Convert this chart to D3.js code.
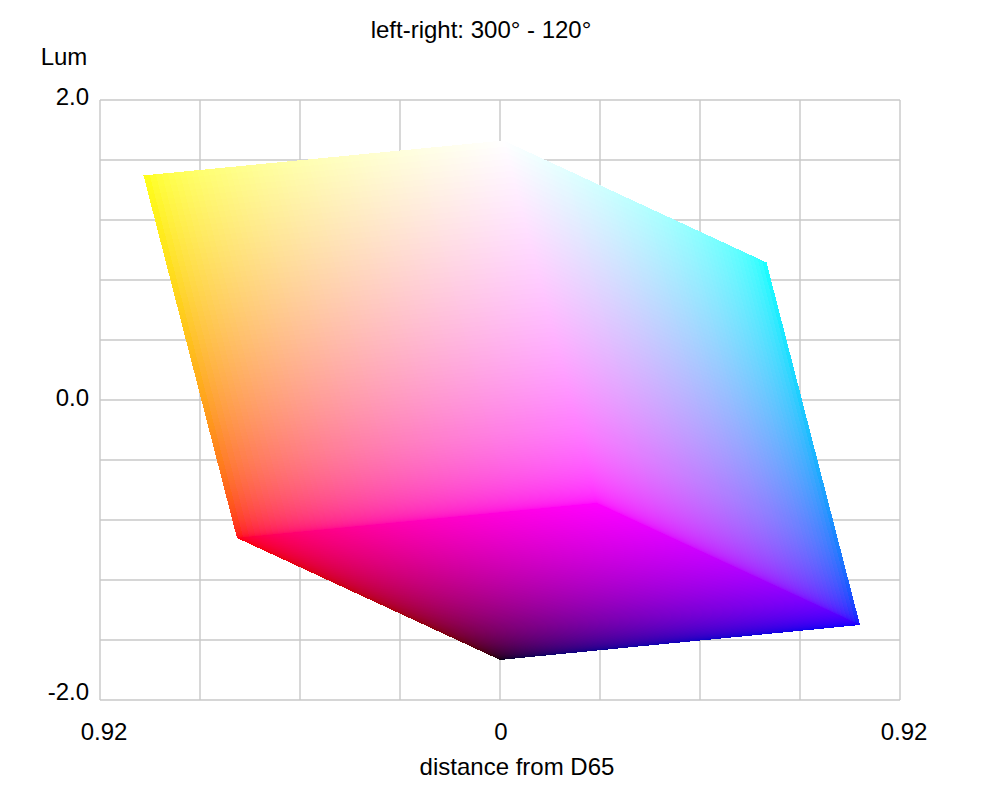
<!DOCTYPE html>
<html>
<head>
<meta charset="utf-8">
<script src="https://cdn.jsdelivr.net/npm/d3@7"></script>
<style>
  html, body { margin: 0; padding: 0; background: #fff; }
  svg { display: block; }
  text { font-family: "Liberation Sans", Arial, sans-serif; fill: #000; }
</style>
</head>
<body>
<script>
// cube corners: distance from D65 (signed) and Lum
const cornerNames = ["black", "red", "blue", "magenta", "yellow", "cyan", "white"];
const cornerX = [0, -0.605, 0.828, 0.223, -0.819, 0.612, 0.008];
const cornerY = [-1.733, -0.92, -1.5, -0.687, 1.493, 0.92, 1.73];
const cornerRGB = [[0, 0, 0], [1, 0, 0], [0, 0, 1], [1, 0, 1], [1, 1, 0], [0, 1, 1], [1, 1, 1]];

// visible faces: origin corner, then the two corners next to it
const faceOrigin = ["black", "magenta", "magenta"];
const faceU = ["red", "red", "blue"];
const faceV = ["blue", "white", "white"];

const xGrid = [-0.92, -0.69, -0.46, -0.23, 0, 0.23, 0.46, 0.69, 0.92];
const yGrid = [-2, -1.6, -1.2, -0.8, -0.4, 0, 0.4, 0.8, 1.2, 1.6, 2];
const xLabels = [-0.92, 0, 0.92];
const yLabels = [-2, 0, 2];

const width = 1000,
height = 800,
steps = 128,
coarseSteps = 24,
gamma = 2.2,
fontSize = "24px";

const x = d3.scaleLinear().domain([-0.92, 0.92]).range([100, 900]);
const y = d3.scaleLinear().domain([-2, 2]).range([700, 100]);
// linear light to display value
const encode = d3.scalePow().exponent(1 / gamma).domain([0, 1]).range([0, 255]);

const svg = d3.select("body").append("svg")
  .attr("width", width)
  .attr("height", height);

const corner = name => {
  const i = cornerNames.indexOf(name);
  return {x: cornerX[i], y: cornerY[i], rgb: cornerRGB[i]};
};

function faceCells(originName, uName, vName, n) {
  const o = corner(originName), u = corner(uName), v = corner(vName);
  // cut points spaced so each cell is one even step of display value
  const cuts = d3.range(n + 1).map(i => encode.invert(i / n * 255));
  const at = (s, t) => [
    x(o.x + s * (u.x - o.x) + t * (v.x - o.x)),
    y(o.y + s * (u.y - o.y) + t * (v.y - o.y))
  ];
  const cells = [];
  d3.range(n).forEach(i => {
    d3.range(n).forEach(j => {
      const s = (cuts[i] + cuts[i + 1]) / 2, t = (cuts[j] + cuts[j + 1]) / 2;
      const rgb = [0, 1, 2].map(c =>
        encode(Math.min(1, o.rgb[c] + s * (u.rgb[c] - o.rgb[c]) + t * (v.rgb[c] - o.rgb[c]))));
      cells.push({
        points: [at(cuts[i], cuts[j]), at(cuts[i + 1], cuts[j]), at(cuts[i + 1], cuts[j + 1]), at(cuts[i], cuts[j + 1])],
        fill: d3.rgb(rgb[0], rgb[1], rgb[2]).formatHex()
      });
    });
  });
  return cells;
}

function drawGrid() {
  const grid = svg.append("g").attr("id", "grid");
  grid.append("g")
    .attr("transform", "translate(0,700)")
    .call(d3.axisBottom(x).offset(0).tickValues(xGrid).tickSize(-600).tickFormat(""));
  grid.append("g")
    .attr("transform", "translate(100,0)")
    .call(d3.axisLeft(y).offset(0).tickValues(yGrid).tickSize(-800).tickFormat(""));
  grid.selectAll(".domain").remove();
  grid.selectAll("line")
    .attr("stroke", "#c8c8c8")
    .attr("stroke-width", 1.4);
}

function drawCube() {
  const cube = svg.append("g")
    .attr("id", "cube")
    .attr("shape-rendering", "crispEdges");
  // coarse pass underneath so pinholes between narrow cells show a nearby colour
  [coarseSteps, steps].forEach(n => {
    faceOrigin.forEach((f, i) => {
      cube.append("g").selectAll("polygon")
        .data(faceCells(f, faceU[i], faceV[i], n))
        .join("polygon")
        .attr("points", d => d.points.map(p => p.join(",")).join(" "))
        .attr("fill", d => d.fill);
    });
  });
}

function drawLabels() {
  const labels = svg.append("g").attr("id", "labels");
  const xAxis = labels.append("g")
    .attr("transform", "translate(0,723)")
    .call(d3.axisBottom(x).offset(0).tickValues(xLabels).tickSize(0).tickPadding(0)
      .tickFormat(d => d === 0 ? "0" : Math.abs(d).toFixed(2)));
  const yAxis = labels.append("g")
    .attr("transform", "translate(89,0)")
    .call(d3.axisLeft(y).offset(0).tickValues(yLabels).tickSize(0).tickPadding(0)
      .tickFormat(d => d.toFixed(1)));
  xAxis.select(".domain").remove();
  yAxis.select(".domain").remove();
  // the labels sit a little off their grid lines in the original
  xAxis.selectAll(".tick text").attr("x", d => d === 0 ? 1 : 4);
  yAxis.selectAll(".tick text").attr("y", d => d === -2 ? -8 : d === 0 ? -2 : -3);
  labels.selectAll(".tick text")
    .style("font-family", '"Liberation Sans", Arial, sans-serif')
    .style("font-size", fontSize);

  labels.append("text")
    .attr("x", 481).attr("y", 38)
    .attr("text-anchor", "middle")
    .style("font-size", fontSize)
    .text("left-right: 300\u00b0 - 120\u00b0");
  labels.append("text")
    .attr("x", 64).attr("y", 65)
    .attr("text-anchor", "middle")
    .style("font-size", fontSize)
    .text("Lum");
  labels.append("text")
    .attr("x", 517).attr("y", 775)
    .attr("text-anchor", "middle")
    .style("font-size", fontSize)
    .text("distance from D65");
}

drawGrid();
drawCube();
drawLabels();
</script>
</body>
</html>
